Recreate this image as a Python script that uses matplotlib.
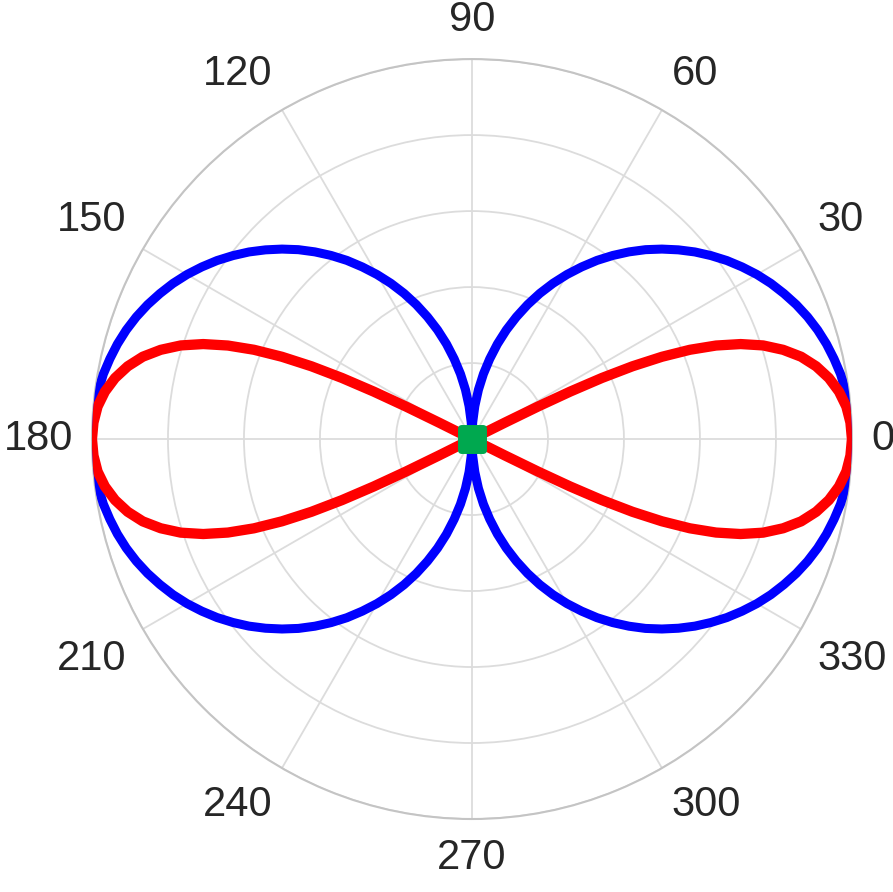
import matplotlib
matplotlib.use("Agg")
import matplotlib.pyplot as plt
import numpy as np
from matplotlib.markers import MarkerStyle

# blue curve, sampled every 2.5 degrees from 0 to 360
blue_theta_deg = np.arange(0, 360.1, 2.5)
blue_r = [
    # 0 .. 90
    1.000, 0.999, 0.996, 0.991, 0.985, 0.976, 0.966, 0.954, 0.940, 0.924,
    0.906, 0.887, 0.866, 0.843, 0.819, 0.793, 0.766, 0.737, 0.707, 0.676,
    0.643, 0.609, 0.574, 0.537, 0.500, 0.462, 0.423, 0.383, 0.342, 0.301,
    0.259, 0.216, 0.174, 0.131, 0.087, 0.044, 0.000,
    # 92.5 .. 180
    0.044, 0.087, 0.131, 0.174, 0.216, 0.259, 0.301, 0.342, 0.383, 0.423,
    0.462, 0.500, 0.537, 0.574, 0.609, 0.643, 0.676, 0.707, 0.737, 0.766,
    0.793, 0.819, 0.843, 0.866, 0.887, 0.906, 0.924, 0.940, 0.954, 0.966,
    0.976, 0.985, 0.991, 0.996, 0.999, 1.000,
    # 182.5 .. 270
    0.999, 0.996, 0.991, 0.985, 0.976, 0.966, 0.954, 0.940, 0.924,
    0.906, 0.887, 0.866, 0.843, 0.819, 0.793, 0.766, 0.737, 0.707, 0.676,
    0.643, 0.609, 0.574, 0.537, 0.500, 0.462, 0.423, 0.383, 0.342, 0.301,
    0.259, 0.216, 0.174, 0.131, 0.087, 0.044, 0.000,
    # 272.5 .. 360
    0.044, 0.087, 0.131, 0.174, 0.216, 0.259, 0.301, 0.342, 0.383, 0.423,
    0.462, 0.500, 0.537, 0.574, 0.609, 0.643, 0.676, 0.707, 0.737, 0.766,
    0.793, 0.819, 0.843, 0.866, 0.887, 0.906, 0.924, 0.940, 0.954, 0.966,
    0.976, 0.985, 0.991, 0.996, 0.999, 1.000,
]

# red figure-eight: right lobe then left lobe (angle in degrees, radius)
red_theta_deg = [
    -26.57, -26.48, -26.22, -25.78, -25.17, -24.38, -23.41, -22.27, -20.96,
    -19.47, -17.82, -16.00, -14.04, -11.93, -9.70, -7.37, -4.96, -2.50, 0.00,
    2.50, 4.96, 7.37, 9.70, 11.93, 14.04, 16.00, 17.82, 19.47, 20.96,
    22.27, 23.41, 24.38, 25.17, 25.78, 26.22, 26.48, 26.57,
    206.48, 206.22, 205.78, 205.17, 204.38, 203.41, 202.27, 200.96, 199.47,
    197.82, 196.00, 194.04, 191.93, 189.70, 187.37, 184.96, 182.50, 180.00,
    177.50, 175.04, 172.63, 170.30, 168.07, 165.96, 164.00, 162.18, 160.53,
    159.04, 157.73, 156.59, 155.62, 154.83, 154.22, 153.78, 153.52, 153.43,
]
red_r = [
    0.000, 0.097, 0.194, 0.287, 0.378, 0.464, 0.545, 0.620, 0.688,
    0.750, 0.805, 0.852, 0.893, 0.926, 0.953, 0.974, 0.989, 0.997, 1.000,
    0.997, 0.989, 0.974, 0.953, 0.926, 0.893, 0.852, 0.805, 0.750, 0.688,
    0.620, 0.545, 0.464, 0.378, 0.287, 0.194, 0.097, 0.000,
    0.097, 0.194, 0.287, 0.378, 0.464, 0.545, 0.620, 0.688, 0.750,
    0.805, 0.852, 0.893, 0.926, 0.953, 0.974, 0.989, 0.997, 1.000,
    0.997, 0.989, 0.974, 0.953, 0.926, 0.893, 0.852, 0.805, 0.750,
    0.688, 0.620, 0.545, 0.464, 0.378, 0.287, 0.194, 0.097, 0.000,
]

center_theta = [0.0]
center_r = [0.0]

theta_ticks = [0, 30, 60, 90, 120, 150, 180, 210, 240, 270, 300, 330]
r_ticks = [0.2, 0.4, 0.6, 0.8, 1.0]

plt.rcParams["font.family"] = ["Liberation Sans", "DejaVu Sans"]

fig = plt.figure(figsize=(8.93, 8.92), dpi=100)
ax = fig.add_axes([0.103, 0.0818, 0.851, 0.852], projection="polar")

ax.plot(np.deg2rad(blue_theta_deg), blue_r, color="#0000ff", linewidth=6.5,
        solid_joinstyle="round", zorder=3)
ax.plot(np.deg2rad(red_theta_deg), red_r, color="#ff0000", linewidth=7.4,
        solid_joinstyle="round", solid_capstyle="round", zorder=4)
ax.plot(center_theta, center_r, marker=MarkerStyle("s", joinstyle="round"),
        markersize=16, color="#00a84f", markeredgewidth=5,
        markeredgecolor="#00a84f", linestyle="none", zorder=5, clip_on=False)

ax.set_ylim(0, 1.0)
ax.set_rticks(r_ticks)
ax.set_yticklabels([])
ax.set_thetagrids(theta_ticks, [""] * len(theta_ticks))
ax.grid(True, color="#dcdcdc", linewidth=1.3)
ax.spines["polar"].set_color("#c4c4c4")
ax.spines["polar"].set_linewidth(1.5)

# angle labels, placed just outside the ring with the near edge facing it
for t in theta_ticks:
    c, s = np.cos(np.deg2rad(t)), np.sin(np.deg2rad(t))
    ha = "left" if c > 0.1 else ("right" if c < -0.1 else "center")
    va = "bottom" if s > 0.1 else ("top" if s < -0.1 else "center")
    ax.text(np.deg2rad(t), 1.05, str(t), ha=ha, va=va, fontsize=30,
            color="#262626", clip_on=False)

fig.savefig("out.png", dpi=100)
